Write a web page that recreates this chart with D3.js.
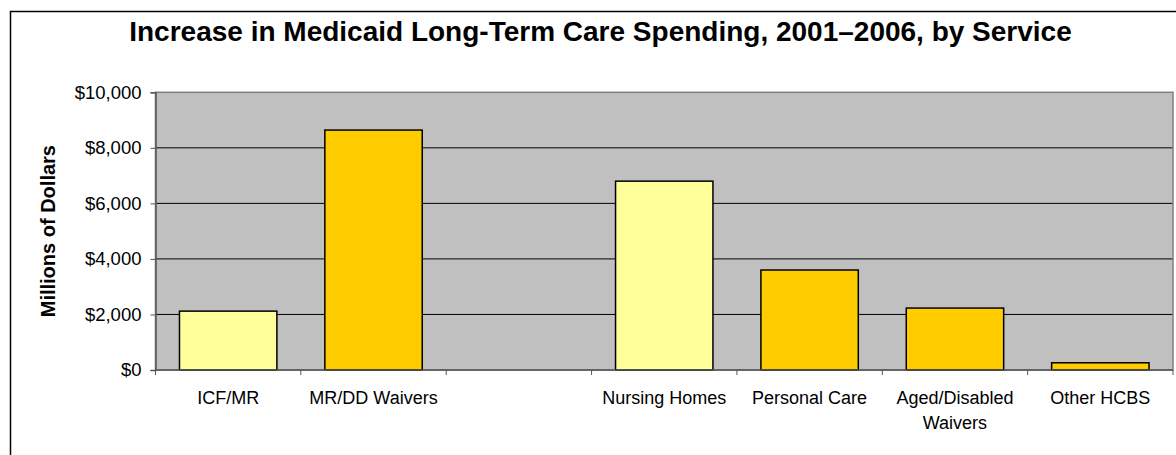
<!DOCTYPE html>
<html>
<head>
<meta charset="utf-8">
<script src="https://cdn.jsdelivr.net/npm/d3@7"></script>
<style>
  html, body { margin: 0; padding: 0; background: #fff; }
  svg { display: block; font-family: "Liberation Sans", Arial, sans-serif; }
</style>
</head>
<body>
<svg id="chart" width="1176" height="455"></svg>
<script>
const title = "Increase in Medicaid Long-Term Care Spending, 2001\u20132006, by Service";
const yAxisTitle = "Millions of Dollars";
const categories = ["ICF/MR", "MR/DD Waivers", "", "Nursing Homes", "Personal Care", "Aged/Disabled Waivers", "Other HCBS"];
const categoryLines = [["ICF/MR"], ["MR/DD Waivers"], [], ["Nursing Homes"], ["Personal Care"], ["Aged/Disabled", "Waivers"], ["Other HCBS"]];
const values = [2120, 8640, null, 6800, 3600, 2230, 260];
const barGroup = ["institutional", "community", null, "institutional", "community", "community", "community"];
const yTicks = [0, 2000, 4000, 6000, 8000, 10000];
const yDomain = [0, 10000];

const colors = { institutional: "#FFFF99", community: "#FFCC00" };

const svg = d3.select("#chart");
const plot = { left: 155.5, right: 1173, top: 92.3, bottom: 370 };

// outer border
svg.append("rect")
  .attr("x", 10.5).attr("y", 11.5)
  .attr("width", 1180).attr("height", 460)
  .attr("fill", "#fff").attr("stroke", "#000").attr("stroke-width", 1.5);

// title
svg.append("text")
  .attr("x", (123 + 1078) / 2).attr("y", 41)
  .attr("text-anchor", "middle")
  .attr("font-size", 28).attr("font-weight", "bold")
  .text(title);

const x = d3.scaleBand().domain(d3.range(categories.length))
  .range([plot.left, plot.right]).paddingInner(0.33).paddingOuter(0.165);
const xSlot = d3.scaleBand().domain(d3.range(categories.length))
  .range([plot.left, plot.right]).padding(0);
const y = d3.scaleLinear().domain(yDomain).range([plot.bottom, plot.top]);

// plot background
svg.append("rect")
  .attr("x", plot.left).attr("y", plot.top)
  .attr("width", plot.right - plot.left).attr("height", plot.bottom - plot.top)
  .attr("fill", "#C0C0C0");

// gridlines
svg.append("g").selectAll("line")
  .data(yTicks.filter(t => t > 0 && t < yDomain[1]))
  .join("line")
  .attr("x1", plot.left).attr("x2", plot.right)
  .attr("y1", d => y(d)).attr("y2", d => y(d))
  .attr("stroke", "#000").attr("stroke-width", 1);

// plot border
svg.append("rect")
  .attr("x", plot.left).attr("y", plot.top)
  .attr("width", plot.right - plot.left).attr("height", plot.bottom - plot.top)
  .attr("fill", "none").attr("stroke", "#808080").attr("stroke-width", 1.5);

// bars
const barData = categories.map((c, i) => ({ i, v: values[i], g: barGroup[i] })).filter(d => d.v != null);
svg.append("g").selectAll("rect")
  .data(barData)
  .join("rect")
  .attr("x", d => x(d.i))
  .attr("width", x.bandwidth())
  .attr("y", d => y(d.v))
  .attr("height", d => y(0) - y(d.v))
  .attr("fill", d => colors[d.g])
  .attr("stroke", "#000").attr("stroke-width", 1.5);

// y axis
const yAxis = d3.axisLeft(y).tickValues(yTicks).tickSize(5).tickPadding(9)
  .tickFormat(d => "$" + d3.format(",")(d));
const gy = svg.append("g").attr("transform", `translate(${plot.left},0)`).call(yAxis);
gy.select(".domain").attr("stroke", "#555").attr("stroke-width", 1.5);
gy.selectAll(".tick line").attr("stroke", "#555");
gy.selectAll(".tick text").attr("font-size", 18.5).attr("fill", "#000")
  .attr("font-family", "'Liberation Sans', Arial, sans-serif");

// x axis with ticks at category boundaries
const gx = svg.append("g");
gx.append("line")
  .attr("x1", plot.left).attr("x2", plot.right)
  .attr("y1", plot.bottom).attr("y2", plot.bottom)
  .attr("stroke", "#555").attr("stroke-width", 1.5);
const boundaries = d3.range(categories.length + 1).map(i => i < categories.length ? xSlot(i) : plot.right);
gx.selectAll("line.tk").data(boundaries).join("line").attr("class", "tk")
  .attr("x1", d => d).attr("x2", d => d)
  .attr("y1", plot.bottom).attr("y2", plot.bottom + 5)
  .attr("stroke", "#555").attr("stroke-width", 1);

const labels = gx.selectAll("text.lbl").data(categoryLines).join("text").attr("class", "lbl")
  .attr("text-anchor", "middle")
  .attr("font-size", 18)
  .attr("fill", "#000");
labels.each(function(lines, i) {
  const t = d3.select(this);
  lines.forEach((ln, k) => {
    t.append("tspan")
      .attr("x", xSlot(i) + xSlot.bandwidth() / 2)
      .attr("y", 404 + k * 25)
      .text(ln);
  });
});

// y axis title
svg.append("text")
  .attr("transform", `translate(55,${(plot.top + plot.bottom) / 2}) rotate(-90)`)
  .attr("text-anchor", "middle")
  .attr("font-size", 20).attr("font-weight", "bold")
  .text(yAxisTitle);
</script>
</body>
</html>
